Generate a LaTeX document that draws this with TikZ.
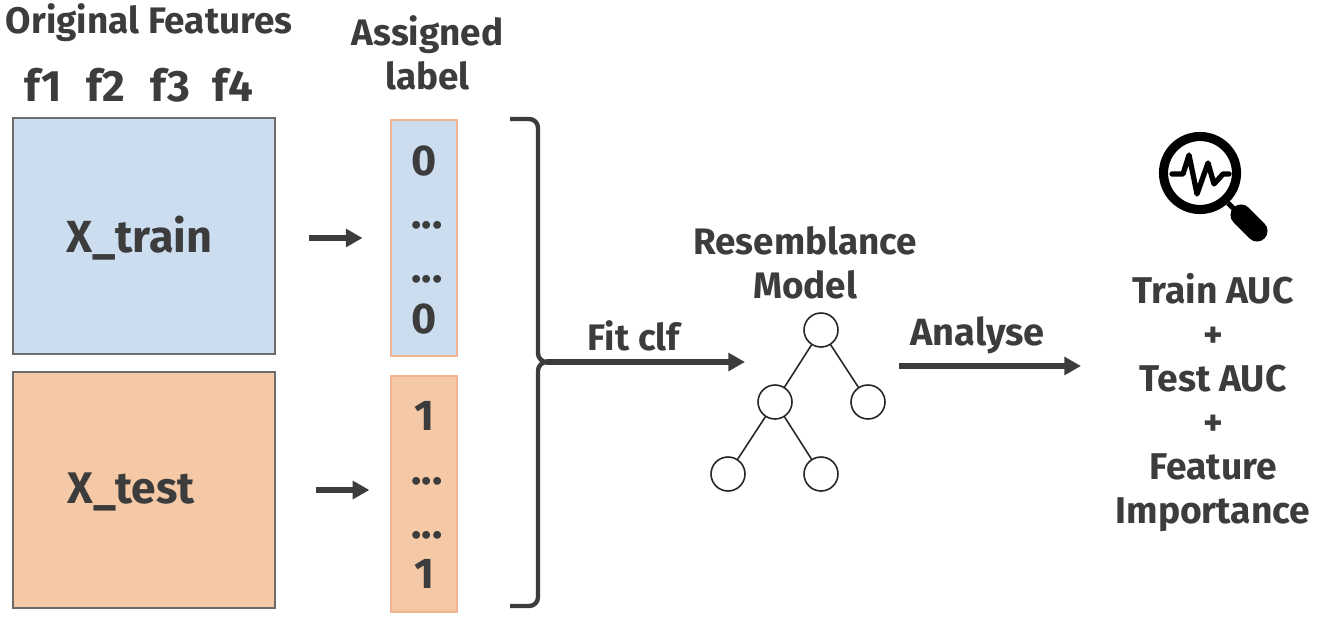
\documentclass[tikz,border=0pt]{standalone}
\usepackage{fontspec}
\setmainfont{Fira Sans}
\usetikzlibrary{arrows.meta}
\definecolor{ink}{HTML}{3C3C3C}
\definecolor{trainblue}{HTML}{CCDDF0}
\definecolor{testorange}{HTML}{F5C9A5}
\definecolor{labedge}{HTML}{EFB48F}
\tikzset{
    txt/.style={text=ink,font=\bfseries\fontsize{#1}{25}\selectfont,inner sep=0pt,align=center},
    txt/.default=21,
    featbox/.style={draw=gray!85!black,line width=0.6pt,inner sep=0pt,minimum width=262*0.02cm,minimum height=236*0.02cm},
    labbox/.style={draw=labedge,line width=0.6pt,inner sep=0pt,minimum width=66*0.02cm,minimum height=236*0.02cm},
    treenode/.style={circle,draw=black!85,fill=white,line width=0.9pt,inner sep=0pt,minimum size=34*0.02cm},
    flow/.style={ink,-{Triangle[length=9.5pt,width=10pt]},line width=3pt}
}
\begin{document}
\begin{tikzpicture}[x=0.02cm,y=-0.02cm]
    \useasboundingbox (0,0) rectangle (1327,625);
    % feature boxes
    \node[featbox,fill=trainblue] (xtrain) at (144,236) {};
    \node[featbox,fill=testorange] (xtest) at (144,490) {};
    \node[txt=25.6] (xtraintxt) at (139.5,238) {X\_train};
    \node[txt=25.2] (xtesttxt) at (131,492) {X\_test};
    \node[txt=21] (orig) at (149,23) {Original Features};
    \foreach \name/\x in {f1/43,f2/106,f3/170,f4/233}
        \node[txt=25] (\name) at (\x,85) {\name};
    % assigned labels
    \node[txt=21] (assigned) at (427.5,53) {Assigned\\label};
    \node[labbox,fill=trainblue] (ytrain) at (424,238) {};
    \node[labbox,fill=testorange] (ytest) at (424,494) {};
    \foreach \name/\y/\val in {a/161/0,b/319/0,c/416/1,d/574/1}
        \node[txt=24.5] (val\name) at (424,\y) {\val};
    \foreach \name/\y in {a/225,b/279,c/481,d/535}
        \node[txt=24.5] (dots\name) at (427,\y) {...};
    \draw[flow,shorten <=19.3pt,shorten >=15.9pt] (xtrain.east |- ytrain) -- (ytrain.west);
    \draw[flow,shorten <=22.8pt,shorten >=12pt] (xtest.east) -- (ytest.west |- xtest);
    % brace
    \coordinate (tip) at (546,362);
    \draw[ink,line width=2.5pt,rounded corners=5pt] (510,119) -- (538,119) -- (538,362) -- (tip);
    \draw[ink,line width=2.5pt,rounded corners=5pt] (510,606) -- (538,606) -- (538,362) -- (tip);
    % model
    \node[txt=21] (model) at (805,263) {Resemblance\\Model};
    \node[treenode] (root) at (821,330) {};
    \node[treenode] (left) at (775,402) {};
    \node[treenode] (right) at (868,402) {};
    \node[treenode] (leftleft) at (728,474) {};
    \node[treenode] (leftright) at (821,474) {};
    \foreach \a/\b in {root/left,root/right,left/leftleft,left/leftright}
        \draw[black!85,line width=0.9pt] (\a) -- (\b);
    \coordinate (fitend) at (745,362);
    \draw[flow] (tip) -- (fitend);
    \node[txt=21] (fit) at (634,336) {Fit clf};
    \coordinate (anastart) at (899,366);
    \coordinate (anaend) at (1081,366);
    \draw[flow] (anastart) -- (anaend);
    \node[txt=21.6] (analyse) at (977.5,335) {Analyse};
    % results
    \node[txt=21.2] (results) at (1213,402.5) {Train AUC\\+\\Test AUC\\+\\Feature\\Importance};
    % magnifier
    \draw[black,line width=5.2pt] (1200,173) circle [radius=36.5];
    \draw[black,line width=3pt] (1228,203) -- (1242,217);
    \draw[black,line width=12pt,line cap=round] (1241,215) -- (1257,231);
    \draw[black,line width=3pt,line join=round,line cap=round] (1172,174) -- (1183,174) -- (1189,155) -- (1197,194) -- (1208,163) -- (1214,184) -- (1223,174) -- (1229,174);
\end{tikzpicture}
\end{document}
